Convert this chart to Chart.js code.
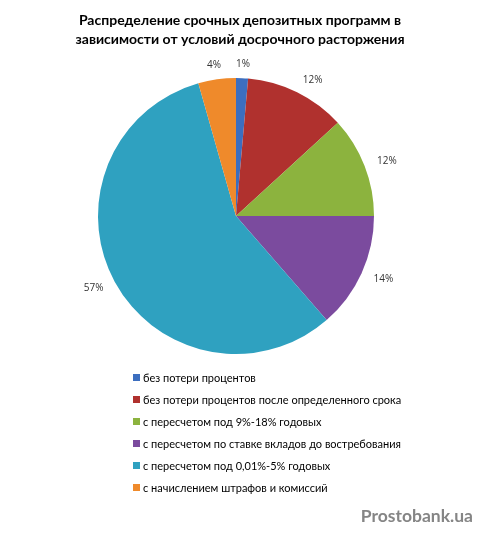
<!DOCTYPE html>
<html>
<head>
<meta charset="utf-8">
<script src="https://cdn.jsdelivr.net/npm/chart.js@4"></script>
<style>
  html, body { margin: 0; padding: 0; background: #fff; }
</style>
</head>
<body>
<canvas id="chart" width="481" height="538"></canvas>
<script>
const titleLines = [
  "Распределение срочных депозитных программ в",
  "зависимости от условий досрочного расторжения"
];
const categories = [
  "без потери процентов",
  "без потери процентов после определенного срока",
  "с пересчетом под 9%-18% годовых",
  "с пересчетом по ставке вкладов до востребования",
  "с пересчетом под 0,01%-5% годовых",
  "с начислением штрафов и комиссий"
];
const shares = [1.4, 11.8, 11.8, 13.6, 57.0, 4.4];
const palette = ["#3C6EBF", "#B0312E", "#8CB33E", "#7B4B9E", "#2FA1C0", "#EF8A2B"];

const overlay = {
  id: "overlay",
  afterDraw(chart) {
    const ctx = chart.ctx;
    const total = shares.reduce((a, b) => a + b, 0);
    ctx.save();

    // title
    ctx.fillStyle = "#000";
    ctx.textAlign = "center";
    ctx.textBaseline = "middle";
    ctx.font = "bold 14px Lato";
    ctx.fillText(titleLines[0], 240, 20);
    ctx.fillText(titleLines[1], 240, 39);

    // data labels outside the slices
    ctx.font = "10px 'Open Sans'";
    ctx.fillStyle = "#333";
    chart.getDatasetMeta(0).data.forEach((arc, i) => {
      const mid = (arc.startAngle + arc.endAngle) / 2;
      const txt = Math.round(shares[i] / total * 100) + "%";
      const half = ctx.measureText(txt).width / 2;
      const r = arc.outerRadius + 14;
      const x = arc.x + Math.cos(mid) * r + Math.cos(mid) * half + Math.sin(mid) * 0;
      const y = arc.y + Math.sin(mid) * r;
      ctx.fillText(txt, x + (Math.cos(mid) > 0.3 && Math.sin(mid) < -0.5 ? 5 : 0), y);
    });

    // legend
    ctx.textAlign = "left";
    ctx.font = "11px Lato";
    categories.forEach((c, i) => {
      const y = 378 + i * 22;
      ctx.fillStyle = palette[i];
      ctx.fillRect(133, y - 4, 7, 7);
      ctx.fillStyle = "#000";
      ctx.fillText(c, 143, y);
    });

    // watermark
    ctx.textAlign = "right";
    ctx.font = "bold 17.5px Lato";
    ctx.fillStyle = "#858585";
    ctx.fillText("Prostobank.ua", 473, 516);
    ctx.restore();
  }
};

new Chart(document.getElementById("chart"), {
  type: "pie",
  data: {
    labels: categories,
    datasets: [{
      data: shares,
      backgroundColor: palette,
      borderWidth: 0
    }]
  },
  options: {
    responsive: false,
    animation: false,
    layout: {
      padding: { top: 78, bottom: 184, left: 98, right: 107 }
    },
    plugins: {
      legend: { display: false },
      tooltip: { enabled: false }
    }
  },
  plugins: [overlay]
});
</script>
</body>
</html>
